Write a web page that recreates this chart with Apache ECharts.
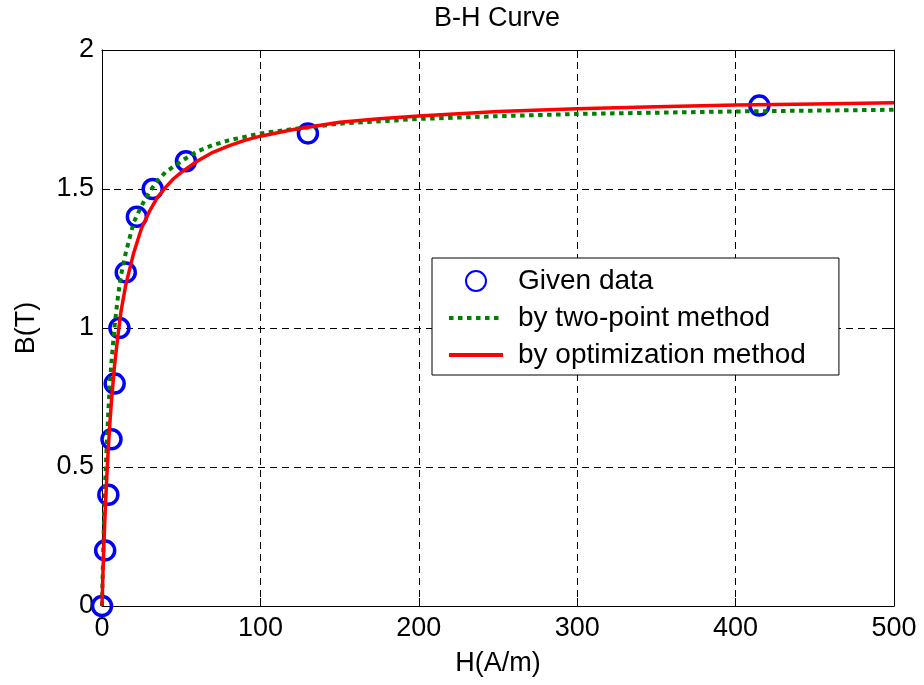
<!DOCTYPE html>
<html>
<head>
<meta charset="utf-8">
<title>B-H Curve</title>
<script src="https://cdn.jsdelivr.net/npm/echarts@6/dist/echarts.min.js"></script>
<style>
    html, body { margin: 0; padding: 0; background: #fff; }
    #main { width: 924px; height: 685px; }
</style>
</head>
<body>
<div id="main"></div>
<script>
// 实测数据点 (H, B)
const givenH = [0, 2, 4, 6, 8, 11, 15, 22, 32, 53, 130, 415];
const givenB = [0, 0.2, 0.4, 0.6, 0.8, 1.0, 1.2, 1.4, 1.5, 1.6, 1.7, 1.8];

// 两点法拟合曲线
const twoPointH = [0, 0.5, 1, 1.5, 2, 3, 4, 5, 6, 8, 10, 12, 15, 20, 25, 30, 35, 40, 50, 60, 70, 80, 100, 120, 150, 200, 250, 300, 400, 500];
const twoPointB = [0, 0.13, 0.25, 0.35, 0.44, 0.58, 0.70, 0.80, 0.88, 1.01, 1.11, 1.19, 1.27, 1.38, 1.44, 1.49, 1.53, 1.56, 1.60, 1.635, 1.658, 1.675, 1.70, 1.715, 1.735, 1.752, 1.762, 1.770, 1.779, 1.785];

// 优化法拟合曲线
const optH = [0, 0.5, 1, 2, 3, 4, 5, 6, 8, 10, 12, 15, 20, 25, 30, 35, 40, 45, 50, 60, 70, 80, 90, 100, 120, 150, 175, 200, 250, 300, 350, 400, 450, 500];
const optB = [0, 0.10, 0.19, 0.34, 0.46, 0.57, 0.66, 0.74, 0.87, 0.97, 1.06, 1.155, 1.27, 1.36, 1.42, 1.47, 1.505, 1.536, 1.56, 1.60, 1.632, 1.655, 1.675, 1.69, 1.713, 1.74, 1.753, 1.763, 1.779, 1.789, 1.796, 1.802, 1.806, 1.81];

// 坐标轴刻度
const xTicks = [0, 100, 200, 300, 400, 500];
const yTicks = [0, 0.5, 1, 1.5, 2];

const zip = function (xs, ys) {
    return xs.map(function (x, i) { return [x, ys[i]]; });
};

const font = 'Liberation Sans, Arial, sans-serif';

let myChart = echarts.init(document.getElementById('main'));

// 图例里线条不显示圆点
const noSymbol = { color: 'rgba(0,0,0,0)', borderColor: 'rgba(0,0,0,0)', borderWidth: 0 };
const greenLine = { color: '#008000', width: 4, type: [4.5, 4.5] };
const redLine = { color: '#ff0000', width: 4 };

let option = {
    backgroundColor: '#fff',
    animation: false,
    title: {
        text: 'B-H Curve',
        left: 492,
        textAlign: 'center',
        top: 0,
        textStyle: { fontFamily: font, fontSize: 27, fontWeight: 'normal', color: '#000' }
    },
    legend: {
        orient: 'vertical',
        left: 432,
        top: 258,
        padding: [9, 33, 6, 15],
        itemGap: 9,
        itemWidth: 54,
        itemHeight: 20,
        backgroundColor: '#fff',
        borderColor: '#000',
        borderWidth: 1,
        borderRadius: 0,
        textStyle: { fontFamily: font, fontSize: 28, color: '#000', lineHeight: 27, padding: [0, 0, 0, 10] },
        data: [
            { name: 'Given data' },
            { name: 'by two-point method', itemStyle: noSymbol, lineStyle: greenLine },
            { name: 'by optimization method', itemStyle: noSymbol, lineStyle: redLine }
        ]
    },
    grid: { left: 102, right: 30, top: 50, bottom: 79, show: false },
    xAxis: [{
        type: 'value',
        min: xTicks[0],
        max: xTicks[xTicks.length - 1],
        interval: 100,
        name: 'H(A/m)',
        nameLocation: 'middle',
        nameGap: 44,
        nameTextStyle: { fontFamily: font, fontSize: 27, color: '#000' },
        axisLine: { onZero: false, lineStyle: { color: '#000', width: 1 } },
        axisTick: { inside: true, length: 8, lineStyle: { color: '#000' } },
        axisLabel: { fontFamily: font, fontSize: 27, color: '#000', margin: 9 },
        splitLine: { show: true, lineStyle: { color: '#000', type: [7, 5], width: 1 } }
    }, {
        type: 'value',
        position: 'top',
        min: xTicks[0],
        max: xTicks[xTicks.length - 1],
        interval: 100,
        axisLine: { onZero: false, lineStyle: { color: '#000', width: 1 } },
        axisTick: { inside: true, length: 8, lineStyle: { color: '#000' } },
        axisLabel: { show: false },
        splitLine: { show: false }
    }],
    yAxis: [{
        type: 'value',
        min: yTicks[0],
        max: yTicks[yTicks.length - 1],
        interval: 0.5,
        name: 'B(T)',
        nameLocation: 'middle',
        nameGap: 62,
        nameTextStyle: { fontFamily: font, fontSize: 27, color: '#000' },
        axisLine: { onZero: false, lineStyle: { color: '#000', width: 1 } },
        axisTick: { inside: true, length: 8, lineStyle: { color: '#000' } },
        axisLabel: { fontFamily: font, fontSize: 27, color: '#000', margin: 8 },
        splitLine: { show: true, lineStyle: { color: '#000', type: [7, 5], width: 1 } }
    }, {
        type: 'value',
        position: 'right',
        min: yTicks[0],
        max: yTicks[yTicks.length - 1],
        interval: 0.5,
        axisLine: { onZero: false, lineStyle: { color: '#000', width: 1 } },
        axisTick: { inside: true, length: 8, lineStyle: { color: '#000' } },
        axisLabel: { show: false },
        splitLine: { show: false }
    }],
    series: [{
        name: 'Given data',
        type: 'scatter',
        symbol: 'circle',
        symbolSize: 19,
        itemStyle: { color: 'rgba(0,0,0,0)', borderColor: '#0000ff', borderWidth: 3.5, opacity: 1 },
        data: zip(givenH, givenB),
        z: 2
    }, {
        name: 'by two-point method',
        type: 'line',
        symbol: 'none',
        color: '#008000',
        lineStyle: greenLine,
        data: zip(twoPointH, twoPointB),
        z: 3
    }, {
        name: 'by optimization method',
        type: 'line',
        symbol: 'none',
        color: '#ff0000',
        lineStyle: { color: '#ff0000', width: 3.5 },
        data: zip(optH, optB),
        z: 4
    }]
};

myChart.setOption(option);
</script>
</body>
</html>
